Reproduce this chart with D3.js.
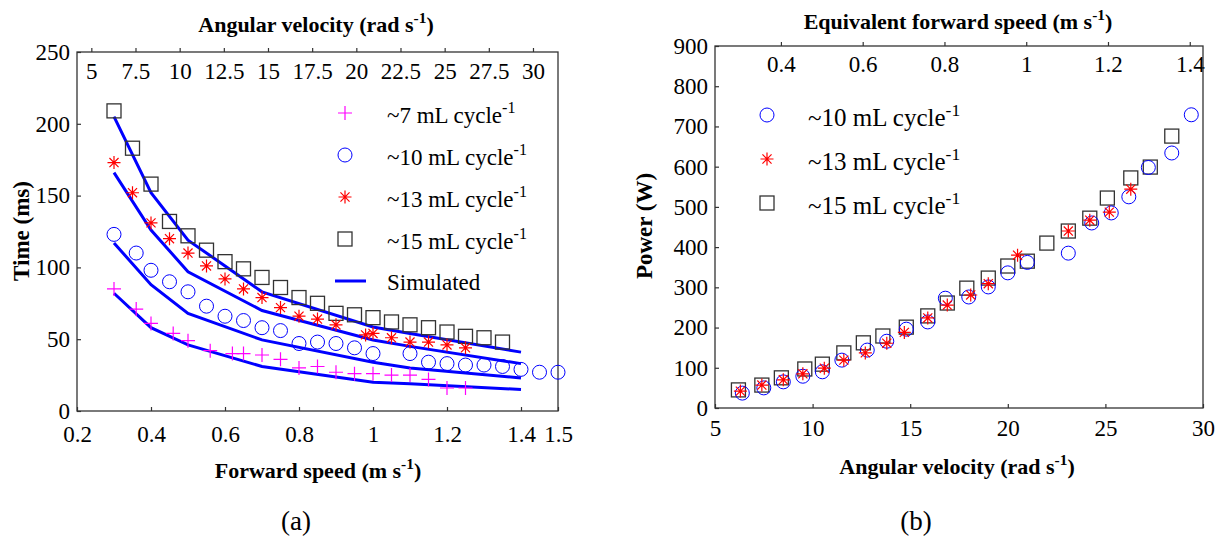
<!DOCTYPE html>
<html>
<head>
<meta charset="utf-8">
<script src="https://cdn.jsdelivr.net/npm/d3@7"></script>
<style>
  body { margin: 0; background: #fff; }
  svg text { font-family: "Liberation Serif", "Times New Roman", serif; fill: #000; }
</style>
</head>
<body>
<svg id="chart" width="1229" height="537"></svg>
<script>
// ---- panel (a): forward speed (m/s) vs time (ms)
var sq15Speed = [0.3,0.35,0.4,0.45,0.5,0.55,0.6,0.65,0.7,0.75,0.8,0.85,0.9,0.95,1.0,1.05,1.1,1.15,1.2,1.25,1.3,1.35]
var sq15Time  = [209,183,158,132,122,112,104,99,93,86,79,75,68,67,65,62,60,58,55,52,51,48]
var st13Speed = [0.3,0.35,0.4,0.45,0.5,0.55,0.6,0.65,0.7,0.75,0.8,0.85,0.9,0.98,1.0,1.05,1.1,1.15,1.2,1.25]
var st13Time  = [173,152,131,120,110,101,92,85,79,72,66,64,60,53,54,51,48,48,46,44]
var ci10Speed = [0.3,0.36,0.4,0.45,0.5,0.55,0.6,0.65,0.7,0.75,0.8,0.85,0.9,0.95,1.0,1.1,1.15,1.2,1.25,1.3,1.35,1.4,1.45,1.5]
var ci10Time  = [123,110,98,90,83,73,66,63,58,56,47,48,47,44,40,40,34,33,32,32,31,29,27,27]
var pl7Speed  = [0.3,0.36,0.4,0.46,0.5,0.56,0.62,0.65,0.7,0.75,0.8,0.85,0.9,0.95,1.0,1.05,1.1,1.15,1.2,1.25]
var pl7Time   = [85,71,61,54,49,42,40,40,39,36,30,31,27,26,26,25,25,22,16,16]
var simSpeed  = [0.3,0.4,0.5,0.7,1.0,1.1,1.4]
var sim15 = [205,152,119,83,58.5,54,41]
var sim13 = [166,126,97,70,49.5,45,33]
var sim10 = [117,88,68,49.5,34,30,23]
var sim7  = [82,58,46,31,20,19,15]
var speedTicksA = [0.2,0.4,0.6,0.8,1,1.2,1.4,1.5]
var timeTicks = [0,50,100,150,200,250]
var omegaTicksA = [5,7.5,10,12.5,15,17.5,20,22.5,25,27.5,30]

// ---- panel (b): angular velocity (rad/s) vs power (W)
var sqOmega = [6.2,7.4,8.4,9.6,10.5,11.6,12.6,13.6,14.8,15.9,16.9,17.9,19.0,20.0,21.0,22.0,23.1,24.2,25.1,26.3,27.3,28.4]
var sqPower = [45,57,75,97,109,137,162,179,201,229,261,298,323,353,365,410,440,472,522,572,599,676]
var ciOmega = [6.4,7.5,8.5,9.5,10.5,11.5,12.8,13.8,14.8,15.9,16.8,18.0,19.0,20.0,21.0,23.1,24.3,25.3,26.2,27.2,28.4,29.4]
var ciPower = [37,50,65,79,90,119,144,166,196,214,273,276,301,336,362,385,460,485,525,598,634,729]
var stOmega = [6.3,7.4,8.5,9.5,10.6,11.6,12.7,13.8,14.7,15.9,16.9,18.1,19.0,20.5,23.1,24.2,25.2,26.3]
var stPower = [42,57,70,85,99,119,137,161,188,224,256,281,309,380,440,467,487,544]
var omegaTicksB = [5,10,15,20,25,30]
var powerTicks = [0,100,200,300,400,500,600,700,800,900]
var speedTicksB = [0.4,0.6,0.8,1,1.2,1.4]

var legendA = ["~7 mL cycle", "~10 mL cycle", "~13 mL cycle", "~15 mL cycle"]
var legendB = ["~10 mL cycle", "~13 mL cycle", "~15 mL cycle"]

var K = 2 * Math.PI / 0.3  // rad/s per m/s
var FS = 22
var TICK_FS = 23

var svg = d3.select("#chart")
var BLUE = "#0000ff", RED = "#ff0000", MAG = "#ff00ff", DARK = "#333", AX = "#333"

function zip(a, b) { return a.map(function(v, i) { return [v, b[i]] }) }

function drawMarker(g, type, x, y) {
  if (type == "square") {
    g.append("rect").attr("x", x - 7).attr("y", y - 7).attr("width", 14).attr("height", 14)
      .attr("fill", "none").attr("stroke", DARK).attr("stroke-width", 1.3)
  } else if (type == "circle") {
    g.append("circle").attr("cx", x).attr("cy", y).attr("r", 7)
      .attr("fill", "none").attr("stroke", BLUE).attr("stroke-width", 1)
  } else if (type == "star") {
    var s = 6.5
    var p = "M" + (x - s) + "," + y + "H" + (x + s) + "M" + x + "," + (y - s) + "V" + (y + s) +
      "M" + (x - s * 0.7) + "," + (y - s * 0.7) + "L" + (x + s * 0.7) + "," + (y + s * 0.7) +
      "M" + (x - s * 0.7) + "," + (y + s * 0.7) + "L" + (x + s * 0.7) + "," + (y - s * 0.7)
    g.append("path").attr("d", p).attr("stroke", RED).attr("stroke-width", 1.2).attr("fill", "none")
  } else if (type == "plus") {
    var s = 7
    var p = "M" + (x - s) + "," + y + "H" + (x + s) + "M" + x + "," + (y - s) + "V" + (y + s)
    g.append("path").attr("d", p).attr("stroke", MAG).attr("stroke-width", 1.2).attr("fill", "none")
  }
}

function superText(g, x, y, main, sup, tail, size, weight, anchor) {
  var t = g.append("text").attr("x", x).attr("y", y).attr("text-anchor", anchor || "middle")
    .style("font-size", size + "px").style("font-weight", weight || "normal")
  t.append("tspan").text(main)
  t.append("tspan").attr("dy", -size * 0.42).style("font-size", (size * 0.7) + "px").text(sup)
  if (tail) t.append("tspan").attr("dy", size * 0.42).text(tail)
  return t
}

function styleAxis(g) {
  g.attr("font-family", null).attr("font-size", null)
  g.select(".domain").remove()
  g.selectAll(".tick line").attr("stroke", AX).attr("stroke-width", 1.2)
  g.selectAll("text").style("font-size", TICK_FS + "px")
}

// ===================== panel (a)
var xA = d3.scaleLinear().domain([0.2, 1.5]).range([77, 558])
var yA = d3.scaleLinear().domain([0, 250]).range([411, 52])
var wA = d3.scaleLinear().domain([0.2 * K, 1.5 * K]).range([77, 558])

svg.append("g").attr("transform", "translate(0,411)")
  .call(d3.axisBottom(xA).tickValues(speedTicksA).tickFormat(d3.format("")).tickSizeInner(-4).tickSizeOuter(0).tickPadding(15))
  .call(styleAxis)
svg.append("g").attr("transform", "translate(77,0)")
  .call(d3.axisLeft(yA).tickValues(timeTicks).tickSizeInner(-4).tickSizeOuter(0).tickPadding(7))
  .call(styleAxis)
svg.append("g").attr("transform", "translate(0,52)")
  .call(d3.axisBottom(wA).tickValues(omegaTicksA).tickFormat(d3.format("")).tickSizeInner(-4).tickSizeOuter(0).tickPadding(11))
  .call(styleAxis)
svg.append("rect").attr("x", 77).attr("y", 52).attr("width", 481).attr("height", 359)
  .attr("fill", "none").attr("stroke", AX).attr("stroke-width", 1.3)

var gA = svg.append("g")
var line = d3.line().x(function(d) { return xA(d[0]) }).y(function(d) { return yA(d[1]) })
;[sim15, sim13, sim10, sim7].forEach(function(s) {
  gA.append("path").datum(zip(simSpeed, s)).attr("d", line)
    .attr("fill", "none").attr("stroke", BLUE).attr("stroke-width", 3)
})
zip(sq15Speed, sq15Time).forEach(function(d) { drawMarker(gA, "square", xA(d[0]), yA(d[1])) })
zip(ci10Speed, ci10Time).forEach(function(d) { drawMarker(gA, "circle", xA(d[0]), yA(d[1])) })
zip(st13Speed, st13Time).forEach(function(d) { drawMarker(gA, "star", xA(d[0]), yA(d[1])) })
zip(pl7Speed, pl7Time).forEach(function(d) { drawMarker(gA, "plus", xA(d[0]), yA(d[1])) })

// legend (a)
var legTypesA = ["plus", "circle", "star", "square"]
legendA.forEach(function(label, i) {
  var y = 113 + i * 42
  drawMarker(svg, legTypesA[i], 345, y)
  superText(svg, 387, y + 10, label, "-1", null, 23, "normal", "start")
})
svg.append("line").attr("x1", 335).attr("x2", 366).attr("y1", 281).attr("y2", 281)
  .attr("stroke", BLUE).attr("stroke-width", 3)
svg.append("text").attr("x", 387).attr("y", 290).style("font-size", "23px").text("Simulated")

superText(svg, 316, 32, "Angular velocity (rad s", "-1", ")", FS, "bold")
superText(svg, 318, 478, "Forward speed (m s", "-1", ")", FS, "bold")
svg.append("text").attr("transform", "translate(29,231) rotate(-90)").attr("text-anchor", "middle")
  .style("font-size", "23px").style("font-weight", "bold").text("Time (ms)")
svg.append("text").attr("x", 296).attr("y", 530).attr("text-anchor", "middle").style("font-size", "27px").text("(a)")

// ===================== panel (b)
var xB = d3.scaleLinear().domain([5, 30]).range([715, 1203])
var yB = d3.scaleLinear().domain([0, 900]).range([408, 46])
var vB = d3.scaleLinear().domain([5 / K, 30 / K]).range([715, 1203])

svg.append("g").attr("transform", "translate(0,408)")
  .call(d3.axisBottom(xB).tickValues(omegaTicksB).tickSizeInner(-4).tickSizeOuter(0).tickPadding(12))
  .call(styleAxis)
svg.append("g").attr("transform", "translate(715,0)")
  .call(d3.axisLeft(yB).tickValues(powerTicks).tickSizeInner(-4).tickSizeOuter(0).tickPadding(7))
  .call(styleAxis)
svg.append("g").attr("transform", "translate(0,46)")
  .call(d3.axisBottom(vB).tickValues(speedTicksB).tickFormat(d3.format("")).tickSizeInner(-4).tickSizeOuter(0).tickPadding(10))
  .call(styleAxis)
svg.append("rect").attr("x", 715).attr("y", 46).attr("width", 488).attr("height", 362)
  .attr("fill", "none").attr("stroke", AX).attr("stroke-width", 1.3)

var gB = svg.append("g")
zip(sqOmega, sqPower).forEach(function(d) { drawMarker(gB, "square", xB(d[0]), yB(d[1])) })
zip(ciOmega, ciPower).forEach(function(d) { drawMarker(gB, "circle", xB(d[0]), yB(d[1])) })
zip(stOmega, stPower).forEach(function(d) { drawMarker(gB, "star", xB(d[0]), yB(d[1])) })

var legTypesB = ["circle", "star", "square"]
legendB.forEach(function(label, i) {
  var y = 115 + i * 44
  drawMarker(svg, legTypesB[i], 767, y)
  superText(svg, 808, y + 11, label, "-1", null, 25, "normal", "start")
})

superText(svg, 958, 29, "Equivalent forward speed (m s", "-1", ")", FS, "bold")
superText(svg, 957, 474, "Angular velocity (rad s", "-1", ")", FS, "bold")
svg.append("text").attr("transform", "translate(652,226) rotate(-90)").attr("text-anchor", "middle")
  .style("font-size", "23px").style("font-weight", "bold").text("Power (W)")
svg.append("text").attr("x", 916).attr("y", 530).attr("text-anchor", "middle").style("font-size", "27px").text("(b)")
</script>
</body>
</html>
